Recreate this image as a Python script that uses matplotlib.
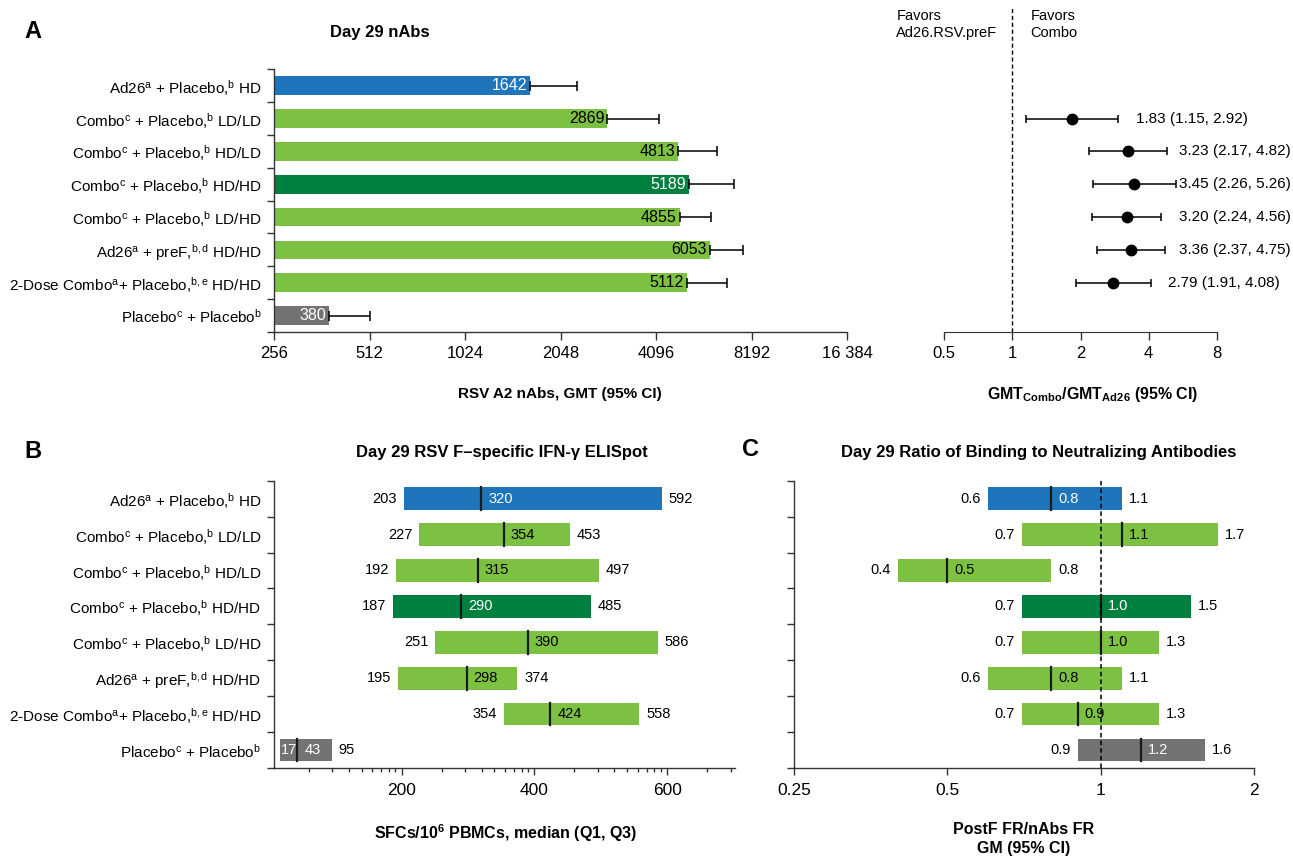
import matplotlib
matplotlib.use('Agg')
import matplotlib.pyplot as plt
import matplotlib.ticker as ticker
import numpy as np

plt.rcParams['font.family'] = ['Liberation Sans', 'DejaVu Sans']
plt.rcParams['mathtext.fontset'] = 'custom'
plt.rcParams['mathtext.rm'] = 'Liberation Sans'
plt.rcParams['mathtext.it'] = 'Liberation Sans:italic'
plt.rcParams['mathtext.bf'] = 'Liberation Sans:bold'

# 組別標籤
groups = [
    r'Ad26$^{\mathregular{a}}$ + Placebo,$^{\mathregular{b}}$ HD',
    r'Combo$^{\mathregular{c}}$ + Placebo,$^{\mathregular{b}}$ LD/LD',
    r'Combo$^{\mathregular{c}}$ + Placebo,$^{\mathregular{b}}$ HD/LD',
    r'Combo$^{\mathregular{c}}$ + Placebo,$^{\mathregular{b}}$ HD/HD',
    r'Combo$^{\mathregular{c}}$ + Placebo,$^{\mathregular{b}}$ LD/HD',
    r'Ad26$^{\mathregular{a}}$ + preF,$^{\mathregular{b,d}}$ HD/HD',
    r'2-Dose Combo$^{\mathregular{a}}$+ Placebo,$^{\mathregular{b,e}}$ HD/HD',
    r'Placebo$^{\mathregular{c}}$ + Placebo$^{\mathregular{b}}$',
]

# A: nAbs GMT 與 95% CI 上限
nab_gmt = [1642, 2869, 4813, 5189, 4855, 6053, 5112, 380]
nab_upper = [2310, 4190, 6370, 7220, 6100, 7690, 6840, 512]

# A: GMT 比值 (Combo / Ad26)
ratio_rows = [1, 2, 3, 4, 5, 6]
ratio_est = [1.83, 3.23, 3.45, 3.20, 3.36, 2.79]
ratio_lo = [1.15, 2.17, 2.26, 2.24, 2.37, 1.91]
ratio_hi = [2.92, 4.82, 5.26, 4.56, 4.75, 4.08]

# B: ELISpot median (Q1, Q3)
eli_q1 = [203, 227, 192, 187, 251, 195, 354, 17]
eli_med = [320, 354, 315, 290, 390, 298, 424, 43]
eli_q3 = [592, 453, 497, 485, 586, 374, 558, 95]

# C: binding / neutralizing GM (95% CI)
bn_lo = [0.6, 0.7, 0.4, 0.7, 0.7, 0.6, 0.7, 0.9]
bn_gm = [0.8, 1.1, 0.5, 1.0, 1.0, 0.8, 0.9, 1.2]
bn_hi = [1.1, 1.7, 0.8, 1.5, 1.3, 1.1, 1.3, 1.6]

BLUE = '#1F75BC'
LGREEN = '#7DC143'
DGREEN = '#00803E'
GREY = '#737373'
bar_colors = [BLUE, LGREEN, LGREEN, DGREEN, LGREEN, LGREEN, LGREEN, GREY]
text_colors = ['white', 'black', 'black', 'white', 'black', 'black', 'black', 'white']
SPINE = '#333333'

W, H = 1293, 859
fig = plt.figure(figsize=(W / 100, H / 100), dpi=100)


def px_axes(left, top, right, bottom):
    return fig.add_axes([left / W, 1 - bottom / H, (right - left) / W, (bottom - top) / H])


def style_rows(ax, labels=None):
    ax.set_ylim(7.5, -0.5)
    ax.yaxis.set_major_locator(ticker.FixedLocator(range(8)))
    ax.yaxis.set_minor_locator(ticker.FixedLocator(np.arange(-0.5, 8, 1)))
    ax.tick_params(axis='y', which='major', length=0, pad=9)
    ax.tick_params(axis='y', which='minor', length=5, width=1, color=SPINE)
    if labels is not None:
        ax.set_yticklabels(labels, fontsize=11)
    else:
        ax.set_yticklabels([])
    for s in ['top', 'right']:
        ax.spines[s].set_visible(False)
    for s in ['left', 'bottom']:
        ax.spines[s].set_color(SPINE)
        ax.spines[s].set_linewidth(1.0)


rows = np.arange(8)

# ---------- A: nAbs ----------
axA = px_axes(274.2, 69.3, 847.2, 332)
axA.set_xscale('log', base=2)
axA.barh(rows, [g - 256 for g in nab_gmt], left=256, height=0.57, color=bar_colors, zorder=2)
axA.errorbar(nab_gmt, rows, xerr=[np.zeros(8), np.array(nab_upper) - np.array(nab_gmt)],
             fmt='none', ecolor='black', elinewidth=1.1, capsize=3.6, capthick=1.1, zorder=3)
for i, g in enumerate(nab_gmt):
    axA.annotate(str(g), (g, i), xytext=(-2, 0), textcoords='offset points',
                 ha='right', va='center', fontsize=11.5, color=text_colors[i], zorder=4)
axA.set_xlim(256, 16384)
a_ticks = [256, 512, 1024, 2048, 4096, 8192, 16384]
axA.xaxis.set_major_locator(ticker.FixedLocator(a_ticks))
axA.xaxis.set_minor_locator(ticker.NullLocator())
axA.set_xticklabels(['256', '512', '1024', '2048', '4096', '8192', '16 384'])
axA.tick_params(axis='x', length=6, width=1, color=SPINE, labelsize=12, pad=4)
style_rows(axA, groups)

# ---------- A: ratio forest ----------
axF = px_axes(944.3, 69.3, 1216.7, 332)
axF.set_xscale('log', base=2)
axF.set_xlim(0.5, 8)
axF.set_ylim(7.5, -0.5)
axF.errorbar(ratio_est, ratio_rows,
             xerr=[np.array(ratio_est) - np.array(ratio_lo), np.array(ratio_hi) - np.array(ratio_est)],
             fmt='o', color='black', markersize=7.5, elinewidth=1.1, capsize=3.2, capthick=1.1)
for r, e, lo, hi in zip(ratio_rows, ratio_est, ratio_lo, ratio_hi):
    # 標籤放在 CI 右側，但不超過右邊界
    axF.text(min(hi * 1.2, 5.45), r, f'{e:.2f} ({lo:.2f}, {hi:.2f})',
             ha='left', va='center', fontsize=11, clip_on=False)
axF.plot([1, 1], [7.5, -2.4], ls=(0, (3, 2)), color='black', lw=1.0, clip_on=False)
axF.text(0.86, -1.86, 'Favors\nAd26.RSV.preF', ha='right', va='center', multialignment='left',
         fontsize=10.5, linespacing=1.25)
axF.text(1.2, -1.86, 'Favors\nCombo', ha='left', va='center', fontsize=10.5, linespacing=1.25)
axF.xaxis.set_major_locator(ticker.FixedLocator([0.5, 1, 2, 4, 8]))
axF.xaxis.set_minor_locator(ticker.NullLocator())
axF.set_xticklabels(['0.5', '1', '2', '4', '8'])
axF.tick_params(axis='x', length=6, width=1, color=SPINE, labelsize=12, pad=4)
axF.set_yticks([])
for s in ['top', 'right', 'left']:
    axF.spines[s].set_visible(False)
axF.spines['bottom'].set_color(SPINE)


def range_bars(ax, lo, mid, hi, fmt, lo_inside=None):
    h = 0.63
    ax.barh(rows, np.array(hi) - np.array(lo), left=lo, height=h, color=bar_colors, zorder=2)
    for i in rows:
        ax.plot([mid[i], mid[i]], [i - h / 2, i + h / 2], color='#1a1a1a', lw=1.6, zorder=3)
        ax.annotate(fmt(mid[i]), (mid[i], i), xytext=(5, 0), textcoords='offset points',
                    ha='left', va='center', fontsize=10.5, color=text_colors[i], zorder=4)
        if lo_inside is not None and lo_inside(lo[i]):
            ax.annotate(fmt(lo[i]), (lo[i], i), xytext=(1, 0), textcoords='offset points',
                        ha='left', va='center', fontsize=10.5, color=text_colors[i], zorder=4)
        else:
            ax.annotate(fmt(lo[i]), (lo[i], i), xytext=(-5, 0), textcoords='offset points',
                        ha='right', va='center', fontsize=10.5, zorder=4)
        ax.annotate(fmt(hi[i]), (hi[i], i), xytext=(5, 0), textcoords='offset points',
                    ha='left', va='center', fontsize=10.5, zorder=4)


# ---------- B: ELISpot ----------
axB = px_axes(274, 480.7, 735, 768)
axB.set_xlim(8, 702)
range_bars(axB, eli_q1, eli_med, eli_q3, lambda v: f'{v:d}', lo_inside=lambda v: v < 100)
axB.xaxis.set_major_locator(ticker.FixedLocator([200, 400, 600]))
b_minor = [200 * m + 200 * np.log10(k) for m in range(4) for k in range(2, 10)]
axB.xaxis.set_minor_locator(ticker.FixedLocator([v for v in b_minor if v < 702 and v % 200]))
axB.tick_params(axis='x', which='major', length=5, width=1, color=SPINE, labelsize=12.5, pad=6)
axB.tick_params(axis='x', which='minor', length=3, width=1, color=SPINE)
style_rows(axB, groups)

# ---------- C: binding / neutralizing ----------
axC = px_axes(794, 480.7, 1254.3, 768)
axC.set_xscale('log', base=2)
axC.set_xlim(0.25, 2)
range_bars(axC, bn_lo, bn_gm, bn_hi, lambda v: f'{v:.1f}')
axC.axvline(1, ls=(0, (3, 2)), color='black', lw=1.1, zorder=5)
axC.xaxis.set_major_locator(ticker.FixedLocator([0.25, 0.5, 1, 2]))
axC.xaxis.set_minor_locator(ticker.NullLocator())
axC.set_xticklabels(['0.25', '0.5', '1', '2'])
axC.tick_params(axis='x', length=5, width=1, color=SPINE, labelsize=12.5, pad=6)
style_rows(axC)


def ftext(x, y, s, **kw):
    fig.text(x / W, 1 - y / H, s, ha='center', va='center', **kw)


ftext(33, 31, 'A', fontsize=17, fontweight='bold')
ftext(33, 452, 'B', fontsize=17, fontweight='bold')
ftext(751, 450, 'C', fontsize=17, fontweight='bold')
ftext(380, 32, 'Day 29 nAbs', fontsize=12, fontweight='bold')
ftext(502, 452, 'Day 29 RSV F\u2013specific IFN-\u03b3 ELISpot', fontsize=12, fontweight='bold')
ftext(1039, 452, 'Day 29 Ratio of Binding to Neutralizing Antibodies', fontsize=12, fontweight='bold')
ftext(560, 394, 'RSV A2 nAbs, GMT (95% CI)', fontsize=11, fontweight='bold')
ftext(1093, 394, r'GMT$_{\mathbf{Combo}}$/GMT$_{\mathbf{Ad26}}$ (95% CI)', fontsize=11.5, fontweight='bold')
ftext(506, 833, r'SFCs/10$^{\mathbf{6}}$ PBMCs, median (Q1, Q3)', fontsize=11.5, fontweight='bold')
ftext(1024, 839, 'PostF FR/nAbs FR\nGM (95% CI)', fontsize=11.5, fontweight='bold', linespacing=1.35)

fig.savefig('out.png', dpi=100)
